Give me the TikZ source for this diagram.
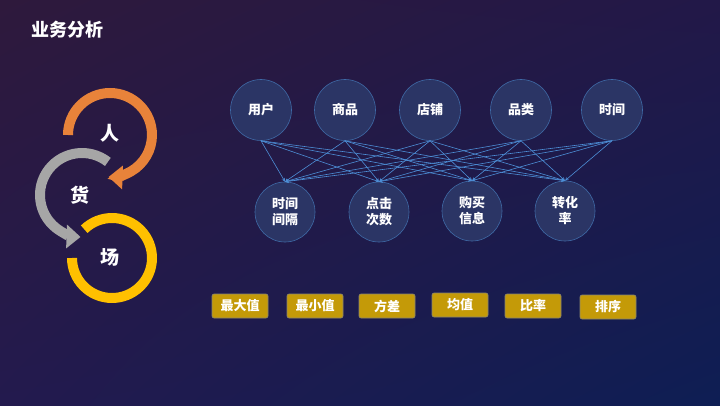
\documentclass[tikz,border=0pt]{standalone}
\usepackage{fontspec}
\setmainfont{Noto Sans CJK SC}
\usetikzlibrary{arrows.meta, shadings}

\definecolor{bgtl}{RGB}{46,25,60}
\definecolor{bgtr}{RGB}{34,24,72}
\definecolor{bgbl}{RGB}{35,26,78}
\definecolor{bgbr}{RGB}{14,30,84}
\definecolor{ballfill}{RGB}{43,53,101}
\definecolor{balledge}{RGB}{63,106,166}
\definecolor{linkblue}{RGB}{77,142,214}
\definecolor{tagfill}{RGB}{196,154,8}
\definecolor{tagedge}{RGB}{138,134,112}
\definecolor{ringorange}{RGB}{232,131,58}
\definecolor{ringgray}{RGB}{166,166,166}
\definecolor{ringyellow}{RGB}{255,192,0}

\tikzset{
  ball/.style={circle, draw=balledge, fill=ballfill, minimum size=61pt, inner sep=0pt,
    text=white, font=\fontsize{13}{16}\selectfont\bfseries, align=center},
  tag/.style={rectangle, rounded corners=2pt, draw=tagedge, fill=tagfill, minimum width=56pt,
    minimum height=24pt, inner sep=0pt, text=white, font=\fontsize{13}{15}\selectfont\bfseries},
  ring/.style={line width=10pt},
  bigchar/.style={text=white, font=\fontsize{19}{21}\selectfont\bfseries},
}

\begin{document}
\begin{tikzpicture}[x=1pt, y=1pt, >=stealth, semithick]
            \shade[upper left=bgtl, upper right=bgtr, lower left=bgbl, lower right=bgbr]
                (0, 0) rectangle (720, 405);
            \useasboundingbox (0, 0) rectangle (720, 405);
            \node[text=white, font=\fontsize{18}{20}\selectfont\bfseries] (title) at (67, 375) {业务分析};
            % 人 货 场
            \coordinate (c0) at (110, 270);
            \coordinate (c1) at (82, 210);
            \coordinate (c2) at (112, 147);
            \draw[ring, ringyellow] (c2) ++(134:40pt) arc[start angle=134, end angle=-180, radius=40pt];
            \draw[ring, ringgray, -{Triangle[length=14pt, width=23pt]}] (c1) ++(52:42pt) arc[start angle=52, end angle=268, radius=42pt];
            \draw[ring, ringorange, -{Triangle[length=14pt, width=23pt]}] (c0) ++(180:42pt) arc[start angle=180, end angle=-92, radius=42pt];
            \node[bigchar] (ren) at (110, 272) {人};
            \node[bigchar] (huo) at (80, 210) {货};
            \node[bigchar] (chang) at (110, 148) {场};
            % dimensions
            \node[ball] (0) at (261, 295) {用户};
            \node[ball] (1) at (345, 295) {商品};
            \node[ball] (2) at (430, 295) {店铺};
            \node[ball] (3) at (521, 295) {品类};
            \node[ball] (4) at (612, 295) {时间};
            % measures
            \node[ball, minimum size=60pt] (5) at (285, 193) {时间\\间隔};
            \node[ball, minimum size=60pt] (6) at (379, 193) {点击\\次数};
            \node[ball, minimum size=60pt] (7) at (472, 194) {购买\\信息};
            \node[ball, minimum size=60pt] (8) at (565, 194) {转化\\率};
            \foreach \a in {0, 1, 2, 3, 4}
                \foreach \b in {5, 6, 7, 8}
                    \draw[->, linkblue] (\a.south) -- (\b.north);
            % statistics
            \node[tag] (9) at (240, 99) {最大值};
            \node[tag] (10) at (315, 99) {最小值};
            \node[tag] (11) at (387, 99) {方差};
            \node[tag] (12) at (460, 100) {均值};
            \node[tag] (13) at (533, 99) {比率};
            \node[tag] (14) at (608, 98) {排序};
        \end{tikzpicture}
\end{document}
